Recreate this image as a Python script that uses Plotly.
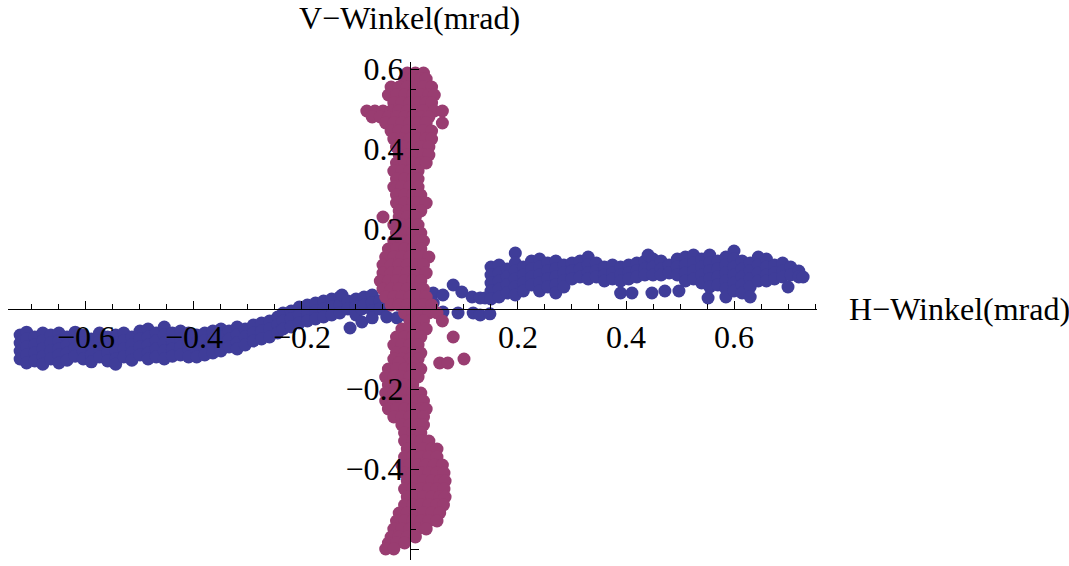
import plotly.graph_objects as go

# ---------------- data ----------------
# blue series: columns of (H-angle, [V-angles])
blue_left = [
    (-0.722, [-0.065, -0.085, -0.105, -0.125]),
    (-0.710, [-0.058, -0.075, -0.095, -0.115, -0.135]),
    (-0.695, [-0.070, -0.090, -0.110, -0.130]),
    (-0.680, [-0.060, -0.080, -0.100, -0.120, -0.138]),
    (-0.665, [-0.065, -0.085, -0.105, -0.125]),
    (-0.650, [-0.060, -0.080, -0.100, -0.115, -0.135]),
    (-0.635, [-0.070, -0.090, -0.110, -0.128]),
    (-0.620, [-0.058, -0.078, -0.098, -0.118]),
    (-0.605, [-0.065, -0.085, -0.105, -0.125]),
    (-0.590, [-0.075, -0.095, -0.115, -0.132]),
    (-0.575, [-0.060, -0.080, -0.100, -0.120]),
    (-0.560, [-0.070, -0.090, -0.110, -0.130]),
    (-0.545, [-0.065, -0.085, -0.105, -0.125, -0.138]),
    (-0.530, [-0.060, -0.080, -0.100, -0.120]),
    (-0.515, [-0.070, -0.090, -0.110, -0.128]),
    (-0.500, [-0.055, -0.075, -0.095, -0.115]),
    (-0.485, [-0.050, -0.070, -0.090, -0.110, -0.125]),
    (-0.470, [-0.060, -0.080, -0.100, -0.120]),
    (-0.455, [-0.045, -0.065, -0.085, -0.105, -0.125]),
    (-0.440, [-0.060, -0.080, -0.100, -0.118]),
    (-0.425, [-0.055, -0.075, -0.095, -0.115]),
    (-0.410, [-0.060, -0.080, -0.100, -0.120]),
    (-0.395, [-0.065, -0.085, -0.105, -0.120]),
    (-0.380, [-0.060, -0.080, -0.100, -0.115]),
    (-0.365, [-0.055, -0.075, -0.095, -0.110]),
    (-0.350, [-0.050, -0.070, -0.090, -0.105]),
    (-0.335, [-0.055, -0.075, -0.095]),
    (-0.320, [-0.045, -0.065, -0.085, -0.100]),
    (-0.305, [-0.050, -0.070, -0.090]),
    (-0.290, [-0.040, -0.060, -0.080]),
    (-0.275, [-0.035, -0.055, -0.075]),
    (-0.260, [-0.030, -0.050, -0.070]),
    (-0.245, [-0.020, -0.040, -0.060]),
    (-0.235, [-0.010, -0.030, -0.050]),
    (-0.220, [-0.005, -0.025, -0.045]),
    (-0.205, [0.005, -0.015, -0.035]),
    (-0.190, [0.010, -0.010, -0.030]),
    (-0.175, [0.015, -0.005, -0.025]),
    (-0.160, [0.020, 0.000, -0.020]),
    (-0.145, [0.025, 0.005, -0.015]),
    (-0.130, [0.030, 0.010, -0.010]),
    (-0.126, [0.035]),
    (-0.115, [0.020, 0.000]),
    (-0.111, [-0.0475]),
    (-0.100, [0.025, 0.005, -0.015]),
    (-0.089, [-0.0325, 0.000]),
    (-0.085, [0.030, 0.010]),
    (-0.070, [0.035, 0.015, -0.005, -0.022]),
    (-0.056, [0.020, 0.000]),
    (-0.043, [0.010, -0.020]),
    (-0.024, [-0.022]),
]

blue_mid = [
    (-0.010, [0.005, -0.015]),
    (0.015, [0.010, -0.012]),
    (0.043, [0.040, 0.015]),
    (0.061, [0.035, -0.0075]),
    (0.080, [0.060]),
    (0.089, [-0.010]),
    (0.096, [0.0425]),
    (0.115, [0.030]),
    (0.117, [-0.010]),
    (0.130, [0.0275, -0.015]),
    (0.139, [0.0275]),
    (0.148, [-0.012]),
]

blue_right = [
    (0.150, [0.105, 0.085, 0.065, 0.045, 0.025]),
    (0.165, [0.110, 0.090, 0.070, 0.050, 0.030]),
    (0.180, [0.100, 0.080, 0.060, 0.040]),
    (0.195, [0.140, 0.115, 0.095, 0.075, 0.055, 0.035]),
    (0.210, [0.105, 0.085, 0.065, 0.045]),
    (0.225, [0.120, 0.100, 0.080, 0.060]),
    (0.240, [0.125, 0.105, 0.085, 0.065, 0.045]),
    (0.255, [0.115, 0.095, 0.075, 0.055]),
    (0.270, [0.120, 0.100, 0.080, 0.060, 0.040]),
    (0.285, [0.110, 0.090, 0.070, 0.055]),
    (0.300, [0.115, 0.095, 0.075]),
    (0.315, [0.120, 0.100, 0.080]),
    (0.330, [0.130, 0.110, 0.090, 0.075]),
    (0.345, [0.115, 0.095, 0.080]),
    (0.360, [0.105, 0.085, 0.070]),
    (0.375, [0.110, 0.090, 0.075]),
    (0.390, [0.105, 0.085, 0.070, 0.040]),
    (0.405, [0.110, 0.090, 0.075]),
    (0.411, [0.040]),
    (0.420, [0.115, 0.095, 0.080]),
    (0.435, [0.120, 0.100, 0.085]),
    (0.441, [0.135]),
    (0.448, [0.040]),
    (0.450, [0.125, 0.105, 0.085]),
    (0.465, [0.120, 0.100, 0.085]),
    (0.472, [0.045]),
    (0.480, [0.110, 0.090]),
    (0.495, [0.125, 0.105, 0.085]),
    (0.498, [0.045]),
    (0.510, [0.130, 0.110, 0.090, 0.070]),
    (0.525, [0.135, 0.115, 0.095, 0.075]),
    (0.540, [0.125, 0.105, 0.085, 0.065]),
    (0.552, [0.0275]),
    (0.555, [0.135, 0.115, 0.095, 0.075, 0.055]),
    (0.570, [0.120, 0.100, 0.080, 0.060]),
    (0.585, [0.130, 0.110, 0.090, 0.070, 0.050, 0.030]),
    (0.600, [0.145, 0.125, 0.105, 0.085, 0.065, 0.045]),
    (0.615, [0.120, 0.100, 0.080, 0.060, 0.040]),
    (0.630, [0.115, 0.095, 0.075, 0.055, 0.030]),
    (0.645, [0.130, 0.110, 0.090, 0.070]),
    (0.660, [0.125, 0.105, 0.085, 0.070]),
    (0.675, [0.110, 0.090, 0.075]),
    (0.690, [0.115, 0.095, 0.080]),
    (0.700, [0.055]),
    (0.705, [0.105, 0.085]),
    (0.720, [0.095, 0.080]),
    (0.728, [0.080]),
]

# magenta series: rows of (V-angle, [H-angles])
magenta_rows = [
    (0.590, [-0.005, 0.010, 0.025]),
    (0.575, [-0.010, 0.005, 0.020, 0.030]),
    (0.555, [-0.035, -0.020, -0.005, 0.010, 0.025, 0.040]),
    (0.535, [-0.040, -0.025, -0.010, 0.005, 0.020, 0.035, 0.045]),
    (0.515, [-0.030, -0.015, 0.000, 0.015, 0.030, 0.040]),
    (0.495, [-0.080, -0.065, -0.050, -0.035, -0.020, -0.005, 0.010, 0.025, 0.045, 0.060]),
    (0.480, [-0.070, -0.055, -0.040, -0.025, -0.010, 0.005, 0.020, 0.035]),
    (0.465, [-0.045, -0.030, -0.015, 0.000, 0.015, 0.030, 0.060]),
    (0.445, [-0.035, -0.020, -0.005, 0.010, 0.025, 0.040]),
    (0.425, [-0.030, -0.015, 0.000, 0.015, 0.030, 0.040]),
    (0.405, [-0.025, -0.010, 0.005, 0.020, 0.035]),
    (0.385, [-0.020, -0.005, 0.010, 0.025, 0.035]),
    (0.365, [-0.025, -0.010, 0.005, 0.020, 0.030]),
    (0.345, [-0.030, -0.015, 0.000, 0.015]),
    (0.325, [-0.025, -0.010, 0.005, 0.015]),
    (0.305, [-0.030, -0.015, 0.000, 0.015]),
    (0.285, [-0.025, -0.010, 0.005, 0.020]),
    (0.265, [-0.025, -0.010, 0.005, 0.015, 0.030]),
    (0.245, [-0.020, -0.005, 0.010, 0.020]),
    (0.230, [-0.050, -0.020, -0.005, 0.010]),
    (0.210, [-0.030, -0.015, 0.000, 0.015]),
    (0.190, [-0.025, -0.010, 0.005, 0.020]),
    (0.170, [-0.030, -0.015, 0.000, 0.015, 0.025]),
    (0.150, [-0.040, -0.025, -0.010, 0.005, 0.020]),
    (0.130, [-0.045, -0.030, -0.015, 0.000, 0.015, 0.035]),
    (0.110, [-0.050, -0.035, -0.020, -0.005, 0.010, 0.025]),
    (0.090, [-0.050, -0.035, -0.020, -0.005, 0.010, 0.030]),
    (0.070, [-0.055, -0.040, -0.025, -0.010, 0.005, 0.020]),
    (0.050, [-0.050, -0.035, -0.020, -0.005, 0.010, 0.025]),
    (0.030, [-0.045, -0.030, -0.015, 0.000, 0.015, 0.030]),
    (0.010, [-0.035, -0.020, -0.005, 0.010, 0.025, 0.040]),
    (-0.010, [-0.010, 0.005, 0.020, 0.035, 0.050]),
    (-0.030, [0.000, 0.015, 0.025, 0.060]),
    (-0.050, [-0.015, 0.000, 0.015, 0.030]),
    (-0.070, [-0.025, -0.010, 0.005, 0.020, 0.080]),
    (-0.090, [-0.030, -0.015, 0.000, 0.015]),
    (-0.110, [-0.025, -0.010, 0.005, 0.020]),
    (-0.125, [-0.030, -0.015, 0.000, 0.015, 0.100]),
    (-0.135, [-0.020, 0.005, 0.055, 0.070]),
    (-0.150, [-0.040, -0.025, -0.010, 0.005, 0.020]),
    (-0.170, [-0.045, -0.030, -0.015, 0.000, 0.015]),
    (-0.190, [-0.040, -0.025, -0.010, 0.005]),
    (-0.210, [-0.045, -0.030, -0.015, 0.005, 0.020]),
    (-0.230, [-0.045, -0.030, -0.015, 0.000, 0.015, 0.025]),
    (-0.250, [-0.040, -0.025, -0.010, 0.005, 0.020, 0.030]),
    (-0.270, [-0.030, -0.015, 0.000, 0.015, 0.025]),
    (-0.290, [-0.015, 0.000, 0.015, 0.025]),
    (-0.310, [-0.010, 0.005, 0.020]),
    (-0.330, [-0.010, 0.005, 0.020, 0.035]),
    (-0.350, [-0.005, 0.010, 0.025, 0.040, 0.050]),
    (-0.370, [-0.010, 0.005, 0.020, 0.035, 0.050]),
    (-0.390, [-0.015, 0.000, 0.015, 0.030, 0.045, 0.060]),
    (-0.410, [-0.010, 0.005, 0.020, 0.035, 0.050, 0.063]),
    (-0.430, [-0.005, 0.010, 0.025, 0.040, 0.055, 0.065]),
    (-0.450, [-0.010, 0.005, 0.020, 0.035, 0.050, 0.063]),
    (-0.470, [-0.005, 0.010, 0.025, 0.040, 0.055, 0.065]),
    (-0.490, [-0.010, 0.005, 0.020, 0.035, 0.050, 0.062]),
    (-0.510, [-0.020, -0.005, 0.010, 0.025, 0.040, 0.055]),
    (-0.530, [-0.025, -0.010, 0.005, 0.020, 0.035, 0.050]),
    (-0.550, [-0.030, -0.015, 0.000, 0.015, 0.030]),
    (-0.570, [-0.035, -0.020, -0.005, 0.010]),
    (-0.585, [-0.040, -0.025, -0.010]),
    (-0.600, [-0.045, -0.030]),
]

x_tick_vals = [-0.6, -0.4, -0.2, 0.2, 0.4, 0.6]
x_tick_text = ["\u22120.6", "\u22120.4", "\u22120.2", "0.2", "0.4", "0.6"]
y_tick_vals = [-0.6, -0.4, -0.2, 0.2, 0.4, 0.6]
y_tick_text = ["\u22120.6", "\u22120.4", "\u22120.2", "0.2", "0.4", "0.6"]
x_label = "H\u2212Winkel(mrad)"
y_label = "V\u2212Winkel(mrad)"

# ---------------- build ----------------
def from_cols(cols):
    xs, ys = [], []
    for x, yl in cols:
        for y in yl:
            xs.append(x)
            ys.append(y)
    return xs, ys


def from_rows(rows):
    xs, ys = [], []
    for y, xl in rows:
        for x in xl:
            xs.append(x)
            ys.append(y)
    return xs, ys


bx, by = from_cols(blue_left + blue_mid + blue_right)
mx, my = from_rows(magenta_rows)

BLUE = "#3f3d99"
MAGENTA = "#993d71"
FONT = "Liberation Serif"

fig = go.Figure()
fig.add_trace(go.Scatter(x=bx, y=by, mode="markers", cliponaxis=False,
                         marker=dict(size=13, color=BLUE, line=dict(width=0)),
                         showlegend=False, hoverinfo="skip"))
fig.add_trace(go.Scatter(x=mx, y=my, mode="markers", cliponaxis=False,
                         marker=dict(size=13, color=MAGENTA, line=dict(width=0)),
                         showlegend=False, hoverinfo="skip"))

xr = [-0.7444, 0.7537]
yr = [-0.6275, 0.6175]
xpos = -yr[0] / (yr[1] - yr[0])   # where y=0 sits (fraction of height)
ypos = -xr[0] / (xr[1] - xr[0])   # where x=0 sits (fraction of width)

x_minor = [round(k * 0.05, 2) for k in range(-14, 16) if k % 4 != 0]
y_minor = [round(k * 0.05, 2) for k in range(-12, 13) if k % 4 != 0]

fig.update_layout(
    width=1069, height=566,
    margin=dict(l=8, r=252, t=62, b=6),
    paper_bgcolor="white", plot_bgcolor="white",
    font=dict(family=FONT, size=32, color="black"),
    xaxis=dict(range=xr, anchor="free", position=xpos,
               showline=True, linecolor="black", linewidth=1,
               ticks="inside", ticklen=8, tickwidth=1, tickcolor="black",
               tickmode="array", tickvals=x_tick_vals, ticktext=x_tick_text,
               tickfont=dict(family=FONT, size=32, color="black"),
               minor=dict(tickmode="array", tickvals=x_minor, ticks="inside",
                          ticklen=5, tickwidth=1, tickcolor="black", showgrid=False),
               showgrid=False, zeroline=False, layer="above traces"),
    yaxis=dict(range=yr, anchor="free", position=ypos,
               showline=True, linecolor="black", linewidth=1,
               ticks="inside", ticklen=8, tickwidth=1, tickcolor="black",
               tickmode="array", tickvals=y_tick_vals, ticktext=y_tick_text,
               tickfont=dict(family=FONT, size=32, color="black"),
               minor=dict(tickmode="array", tickvals=y_minor, ticks="inside",
                          ticklen=5, tickwidth=1, tickcolor="black", showgrid=False),
               showgrid=False, zeroline=False, layer="above traces"),
    annotations=[
        dict(text=x_label, xref="paper", yref="paper", x=(847 - 8) / 809, y=xpos,
             xanchor="left", yanchor="middle", showarrow=False,
             font=dict(family=FONT, size=32, color="black")),
        dict(text=y_label, xref="paper", yref="paper", x=ypos, y=(560 - 18) / 498,
             xanchor="center", yanchor="middle", showarrow=False,
             font=dict(family=FONT, size=32, color="black")),
    ],
)

fig.write_html("out.html")
